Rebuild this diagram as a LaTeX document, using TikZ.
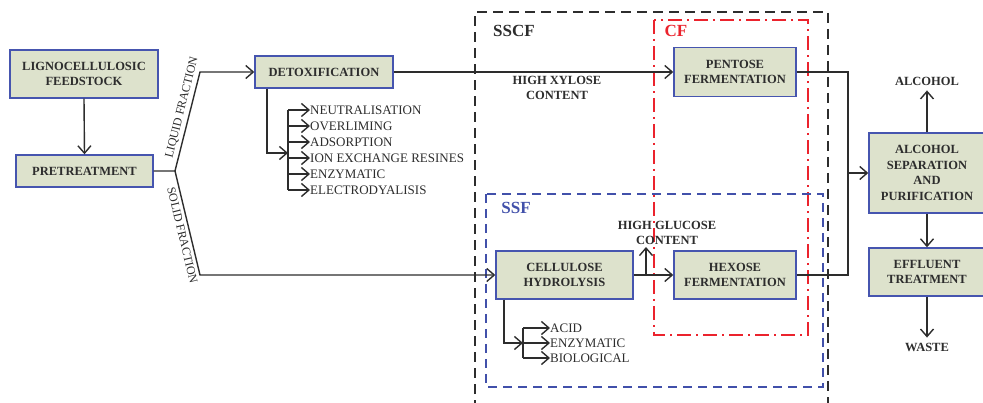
\documentclass[tikz,border=0pt]{standalone}
\usepackage{fontspec}
\setmainfont{Liberation Serif}
\usepackage{xcolor}
\usetikzlibrary{arrows.meta,positioning,calc}

\definecolor{boxfill}{RGB}{221,226,204}
\definecolor{boxline}{RGB}{70,85,175}
\definecolor{txtgray}{RGB}{45,45,45}
\definecolor{ssfblue}{RGB}{65,80,170}
\definecolor{cfred}{RGB}{235,35,45}

\begin{document}
\begin{tikzpicture}[
    x=1pt, y=-1pt,
    box/.style={rectangle, draw=boxline, line width=1.4pt, fill=boxfill, align=center, inner sep=0pt, text=txtgray, font=\fontsize{12.5}{15.5}\selectfont\bfseries},
    item/.style={anchor=west, inner sep=0pt, text=txtgray, font=\fontsize{13}{14}\selectfont},
    tag/.style={align=center, inner sep=1pt, text=txtgray, font=\fontsize{12.5}{15.5}\selectfont\bfseries},
    fraclabel/.style={inner sep=3pt, text=txtgray, font=\fontsize{12}{14}\selectfont},
    frametitle/.style={inner sep=0pt, font=\fontsize{17}{17}\selectfont\bfseries},
    frame/.style={line width=1.4pt},
    line/.style={line width=1.4pt, draw=txtgray},
    arrow/.style={line, -{Straight Barb[length=7.5pt,width=13pt,line width=1.4pt]}}
]
\useasboundingbox (0,0) rectangle (983,403);

% Process frames
\draw[frame, txtgray, dash pattern=on 10pt off 6pt] (475,410) |- (828,12) -- (828,410);
\draw[frame, cfred, dash pattern=on 14pt off 5pt on 2pt off 5pt] (654,20) rectangle (808,335);
\draw[frame, ssfblue, dash pattern=on 9pt off 6pt] (486,194) rectangle (823,387);
\node[frametitle, text=txtgray] (sscf) at (514,31) {SSCF};
\node[frametitle, text=cfred] (cf) at (676,31) {CF};
\node[frametitle, text=ssfblue] (ssf) at (516,208) {SSF};

% Main boxes
\node[box, minimum width=148pt, minimum height=48pt] (feed) at (84,74) {LIGNOCELLULOSIC\\FEEDSTOCK};
\node[box, minimum width=137pt, minimum height=32pt] (pre) at (84.5,171) {PRETREATMENT};
\node[box, minimum width=138pt, minimum height=32pt] (detox) at (324,72) {DETOXIFICATION};
\node[box, minimum width=122pt, minimum height=49pt] (pent) at (735,72) {PENTOSE\\FERMENTATION};
\node[box, minimum width=137pt, minimum height=48pt] (hydro) at (564.5,275) {CELLULOSE\\HYDROLYSIS};
\node[box, minimum width=122pt, minimum height=48pt] (hex) at (735,275) {HEXOSE\\FERMENTATION};
\node[box, minimum width=116pt, minimum height=80pt] (sep) at (927,173) {ALCOHOL\\SEPARATION\\AND\\PURIFICATION};
\node[box, minimum width=116pt, minimum height=48pt] (eff) at (927,272) {EFFLUENT\\TREATMENT};

% Fractions
\coordinate (jn) at (175,171);
\coordinate (liq) at (200,72);
\coordinate (sol) at (200,275);
\draw[arrow] (feed.south) -- (pre.north);
\draw[arrow] (pre.east) -- (jn) -- node[fraclabel, sloped, above, pos=0.62] (liqlab) {LIQUID FRACTION} (liq) -- (detox.west);
\draw[arrow] (jn) -- node[fraclabel, sloped, below, pos=0.6] (sollab) {SOLID FRACTION} (sol) -- (hydro.west);

% Detoxification methods
\coordinate (dbar) at (288,0);
\coordinate (dmid) at (288,153);
\foreach \txt [count=\i] in {NEUTRALISATION,OVERLIMING,ADSORPTION,ION EXCHANGE RESINES,ENZYMATIC,ELECTRODYALISIS}
  \node[item] (dt\i) at (310,94+16*\i) {\txt};
\draw[line] (dbar |- dt1.west) -- (dbar |- dt6.west);
\foreach \i in {1,...,6}
  \draw[arrow] (dbar |- dt\i.west) -- (dt\i.west);
\draw[arrow] ([xshift=-57pt]detox.south) |- (dmid);

% Xylose route
\draw[arrow] (detox.east) -- (pent.west);
\node[tag] (xyl) at (557,88) {HIGH XYLOSE\\CONTENT};

% Hydrolysis methods
\coordinate (hbar) at (523,0);
\coordinate (hmid) at (523,343);
\foreach \txt [count=\i] in {ACID,ENZYMATIC,BIOLOGICAL}
  \node[item] (hm\i) at (550,313+15*\i) {\txt};
\draw[line] (hbar |- hm1.west) -- (hbar |- hm3.west);
\foreach \i in {1,...,3}
  \draw[arrow] (hbar |- hm\i.west) -- (hm\i.west);
\draw[arrow] ([xshift=-60.5pt]hydro.south) |- (hmid);

% Glucose route
\coordinate (gjoin) at (646,275);
\coordinate (gtip) at (646,247);
\draw[arrow] (hydro.east) -- (hex.west);
\draw[arrow] (gjoin) -- (gtip);
\node[tag] (glc) at (667,233) {HIGH GLUCOSE\\CONTENT};

% Separation and outputs
\coordinate (cbar) at (848,173);
\draw[line] (pent.east) -| (cbar) |- (hex.east);
\draw[arrow] (cbar) -- (sep.west);
\node[tag] (alc) at (927,81) {ALCOHOL};
\node[tag] (waste) at (927,347) {WASTE};
\draw[arrow] (sep.north) -- ([yshift=-4pt]alc.south);
\draw[arrow] (sep.south) -- (eff.north);
\draw[arrow] (eff.south) -- ([yshift=4pt]waste.north);

\end{tikzpicture}
\end{document}
